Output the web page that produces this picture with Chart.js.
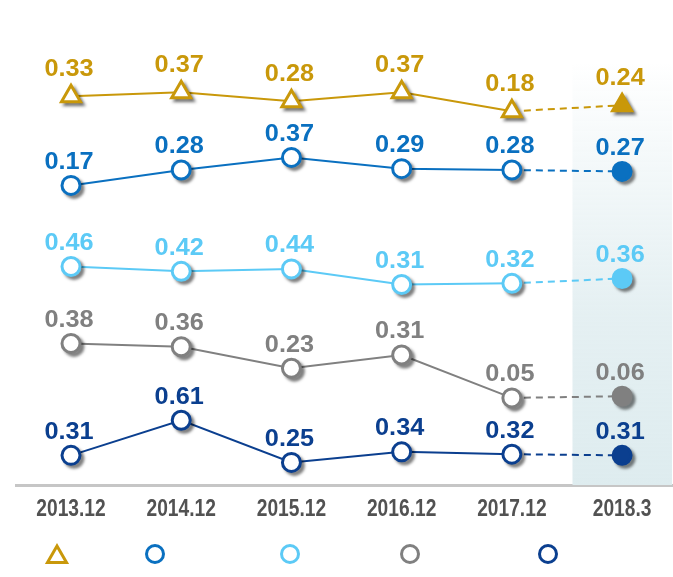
<!DOCTYPE html>
<html>
<head>
<meta charset="utf-8">
<script src="https://cdn.jsdelivr.net/npm/chart.js@4/dist/chart.umd.min.js"></script>
<style>
  html, body { margin: 0; padding: 0; background: #fff; }
  #ratios { display: block; }
</style>
</head>
<body>
<canvas id="ratios" width="673" height="577"></canvas>
<script>
// periods along the bottom
var categories = ['2013.12', '2014.12', '2015.12', '2016.12', '2017.12', '2018.3'];

// one row per indicator, top to bottom
var goldValues  = [0.33, 0.37, 0.28, 0.37, 0.18, 0.24];
var blueValues  = [0.17, 0.28, 0.37, 0.29, 0.28, 0.27];
var skyValues   = [0.46, 0.42, 0.44, 0.31, 0.32, 0.36];
var greyValues  = [0.38, 0.36, 0.23, 0.31, 0.05, 0.06];
var navyValues  = [0.31, 0.61, 0.25, 0.34, 0.32, 0.31];

var rows = [
  { values: goldValues, color: '#c9980a', style: 'triangle', axis: 'yGold', lift: 27 },
  { values: blueValues, color: '#0a70c0', style: 'circle',   axis: 'yBlue', lift: 23 },
  { values: skyValues,  color: '#5ccaf6', style: 'circle',   axis: 'ySky',  lift: 23 },
  { values: greyValues, color: '#808080', style: 'circle',   axis: 'yGrey', lift: 23 },
  { values: navyValues, color: '#0b3f8f', style: 'circle',   axis: 'yNavy', lift: 23 }
];

function points(values) {
  return values.map(function(v, i) { return { x: i, y: v }; });
}

var markerSets = [];
var lineSets = [];
rows.forEach(function(r) {
  var last = r.values.length - 1;
  markerSets.push({
    data: points(r.values),
    yAxisID: r.axis,
    showLine: false,
    pointStyle: r.style,
    pointRadius: r.style === 'triangle' ? 11 : 9,
    pointBorderWidth: 3,
    pointBorderColor: r.color,
    pointBackgroundColor: r.values.map(function(v, i) { return i === last ? r.color : '#ffffff'; }),
    shadow: true,
    labelColor: r.color,
    labelLift: r.lift
  });
  lineSets.push({
    data: points(r.values),
    yAxisID: r.axis,
    borderColor: r.color,
    borderWidth: 2,
    pointRadius: 0,
    segment: {
      borderDash: function(ctx) { return ctx.p1DataIndex === last ? [7, 5] : undefined; }
    }
  });
});

// light band behind the latest period
var shadeBand = {
  id: 'shadeBand',
  beforeDatasetsDraw: function(chart) {
    var ctx = chart.ctx, area = chart.chartArea, x = chart.scales.x;
    var left = x.getPixelForValue(4.55);
    var g = ctx.createLinearGradient(0, 60, 0, area.bottom);
    g.addColorStop(0, 'rgba(224,237,240,0)');
    g.addColorStop(0.3, 'rgba(224,237,240,0.45)');
    g.addColorStop(0.6, 'rgba(224,237,240,0.85)');
    g.addColorStop(1, 'rgba(222,236,239,1)');
    ctx.save();
    ctx.fillStyle = g;
    ctx.fillRect(left, 60, area.right - 1 - left, area.bottom - 60);
    ctx.restore();
  }
};

// soft grey shadow laid down under each marker before it is drawn
var markerShadow = {
  id: 'markerShadow',
  beforeDatasetDraw: function(chart, args) {
    var ds = chart.data.datasets[args.index];
    if (!ds.shadow) return;
    var ctx = chart.ctx;
    ctx.save();
    ctx.filter = 'blur(1.5px)';
    ctx.fillStyle = 'rgba(0,0,0,0.42)';
    ctx.strokeStyle = 'rgba(0,0,0,0.42)';
    ctx.lineWidth = 3;
    args.meta.data.forEach(function(pt) {
      Chart.helpers.drawPoint(ctx, {
        pointStyle: pt.options.pointStyle,
        radius: pt.options.radius,
        borderWidth: 3
      }, pt.x + 3, pt.y + 3);
    });
    ctx.restore();
  }
};

// value text above each marker, period names under the axis
var textLayer = {
  id: 'textLayer',
  afterDatasetsDraw: function(chart) {
    var ctx = chart.ctx;
    chart.data.datasets.forEach(function(ds, di) {
      if (!ds.labelColor) return;
      var meta = chart.getDatasetMeta(di);
      meta.data.forEach(function(pt, i) {
        ctx.save();
        ctx.translate(pt.x - 2, pt.y - ds.labelLift);
        ctx.scale(1.1, 1);
        ctx.font = 'bold 23px "Liberation Sans", Arial, sans-serif';
        ctx.fillStyle = ds.labelColor;
        ctx.textAlign = 'center';
        ctx.textBaseline = 'middle';
        ctx.fillText(ds.data[i].y.toFixed(2), 0, 0);
        ctx.restore();
      });
    });

    var x = chart.scales.x;
    categories.forEach(function(c, i) {
      ctx.save();
      ctx.translate(x.getPixelForValue(i), 509);
      ctx.scale(0.8, 1);
      ctx.font = 'bold 24px "Liberation Sans", Arial, sans-serif';
      ctx.fillStyle = '#525252';
      ctx.textAlign = 'center';
      ctx.textBaseline = 'middle';
      ctx.fillText(c, 0, 0);
      ctx.restore();
    });
  }
};

// marker-only key under the axis
var markerKey = {
  id: 'markerKey',
  afterDraw: function(chart) {
    var ctx = chart.ctx;
    var keyX = [57, 155, 290, 410, 548];
    var keyY = 554;
    rows.forEach(function(r, i) {
      ctx.save();
      ctx.strokeStyle = r.color;
      ctx.fillStyle = '#ffffff';
      ctx.lineWidth = 3;
      Chart.helpers.drawPoint(ctx, {
        pointStyle: r.style,
        radius: r.style === 'triangle' ? 11 : 8.5,
        borderWidth: 3
      }, keyX[i], r.style === 'triangle' ? keyY + 3 : keyY);
      ctx.restore();
    });
  }
};

function band(min, max) {
  return { type: 'linear', display: false, min: min, max: max };
}

new Chart(document.getElementById('ratios'), {
  type: 'line',
  data: { datasets: markerSets.concat(lineSets) },
  options: {
    responsive: false,
    animation: false,
    devicePixelRatio: 1,
    layout: { autoPadding: false, padding: { top: 0, left: 16, right: 0, bottom: 92 } },
    plugins: { legend: { display: false }, tooltip: { enabled: false } },
    scales: {
      x: {
        type: 'linear',
        min: -0.499,
        max: 5.462,
        grid: { display: false, drawTicks: false },
        border: { display: true, color: '#c6c6c6', width: 3 },
        ticks: { display: false }
      },
      yGold: band(-3.557, 1.293),
      yBlue: band(-1.970, 1.4946),
      ySky:  band(-1.3608, 2.6808),
      yGrey: band(-0.478, 2.4614),
      yNavy: band(0.0567, 4.202)
    }
  },
  plugins: [shadeBand, markerShadow, textLayer, markerKey]
});
</script>
</body>
</html>
